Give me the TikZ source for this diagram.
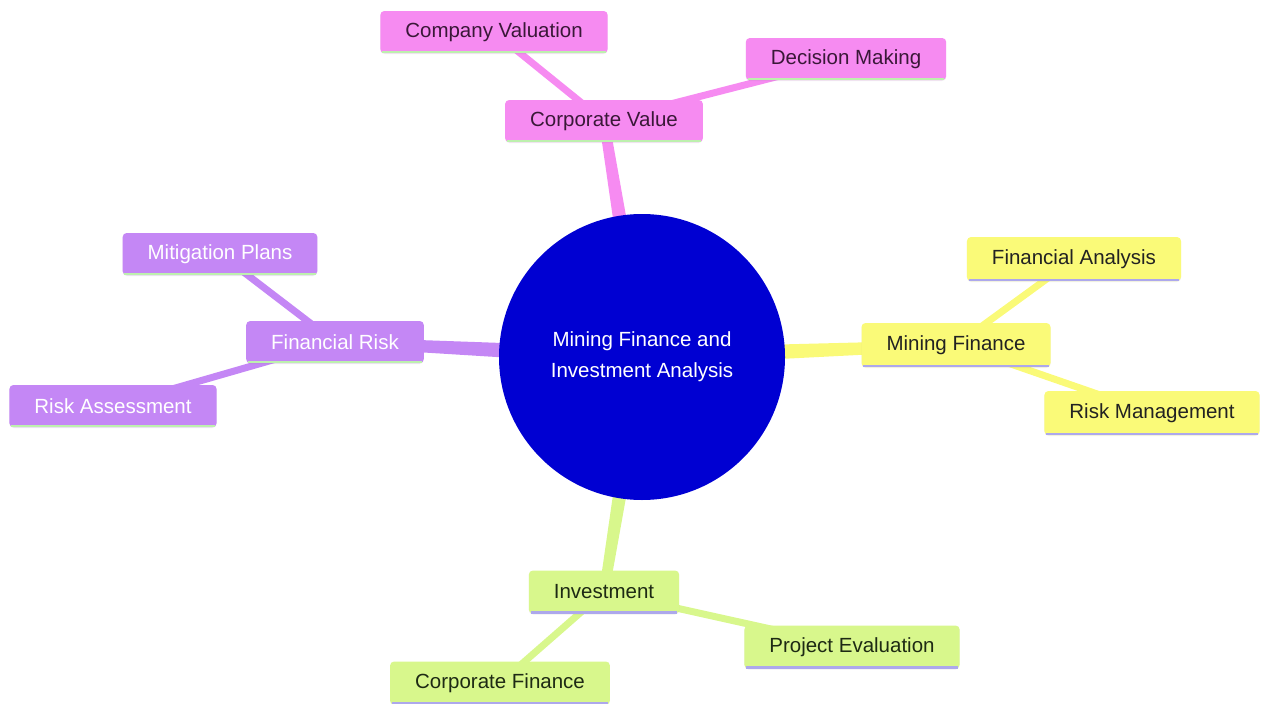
\documentclass[tikz,border=0pt]{standalone}
\usepackage{fontspec}
\setmainfont{Liberation Sans}
\usetikzlibrary{calc,backgrounds,shadows}
\definecolor{pinkf}{HTML}{F68BF1}
\definecolor{purpf}{HTML}{C487F5}
\definecolor{yellf}{HTML}{FAFA78}
\definecolor{limef}{HTML}{D8F78C}
\definecolor{rootf}{HTML}{0000D2}
\definecolor{greenline}{HTML}{BDF0AE}
\definecolor{lavline}{HTML}{ADA8EC}
\definecolor{pinktext}{HTML}{3A1838}
\definecolor{darktext}{HTML}{222222}
\definecolor{limetext}{HTML}{1E2A14}
\newcommand\taperedge[5]{%
  \fill[#1] ($(#2)!#4!90:(#3)$) -- ($(#3)!#5!-90:(#2)$) -- ($(#3)!#5!90:(#2)$) -- ($(#2)!#4!-90:(#3)$) -- cycle;}
\begin{document}
\begin{tikzpicture}[x=1pt,y=-1pt,
  font=\fontsize{20.5}{31}\selectfont,
  box/.style={rectangle, rounded corners=4pt, inner xsep=25pt, inner ysep=0pt,
    minimum height=42pt, drop shadow={opacity=0.12, shadow xshift=0pt, shadow yshift=-1pt}},
  pinkbox/.style={box, fill=pinkf, text=pinktext},
  purpbox/.style={box, fill=purpf, text=white},
  yellbox/.style={box, fill=yellf, text=darktext, minimum height=44pt},
  limebox/.style={box, fill=limef, text=limetext, minimum height=43pt},
  child/.style={line width=7pt},
  underline/.style={line width=2.5pt}]
\path[use as bounding box] (0,0) rectangle (1261,704);

\node[circle, fill=rootf, minimum size=286pt, text=white, align=center, inner sep=0pt] (root) at (642,357)
  {Mining Finance and\\Investment Analysis};

\node[pinkbox] (cv) at (604,121) {Corporate Value};
\node[pinkbox] (comp) at (494,32) {Company Valuation};
\node[pinkbox] (dec) at (846,59) {Decision Making};

\node[purpbox] (fr) at (335,342) {Financial Risk};
\node[purpbox] (mit) at (220,254) {Mitigation Plans};
\node[purpbox] (ra) at (113,406) {Risk Assessment};

\node[yellbox] (mf) at (956,345) {Mining Finance};
\node[yellbox] (fa) at (1074,259) {Financial Analysis};
\node[yellbox] (rm) at (1152,413) {Risk Management};

\node[limebox] (inv) at (604,592) {Investment};
\node[limebox] (pe) at (852,647) {Project Evaluation};
\node[limebox] (cf) at (500,683) {Corporate Finance};

\foreach \n in {cv,comp,dec,fr,mit,ra}
  \draw[underline, greenline] ([xshift=2pt,yshift=1pt]\n.south west) -- ([xshift=-2pt,yshift=1pt]\n.south east);
\foreach \n in {mf,fa,rm,inv,pe,cf}
  \draw[underline, lavline] ([xshift=2pt,yshift=1pt]\n.south west) -- ([xshift=-2pt,yshift=1pt]\n.south east);

\begin{scope}[on background layer]
  \taperedge{pinkf}{root}{cv}{9pt}{5pt}
  \taperedge{purpf}{root}{fr}{9pt}{5pt}
  \taperedge{yellf}{root}{mf}{9pt}{5pt}
  \taperedge{limef}{root}{inv}{9pt}{5pt}
  \draw[child, pinkf] (cv.center) -- (comp.center);
  \draw[child, pinkf] (cv.center) -- (dec.center);
  \draw[child, purpf] (fr.center) -- (mit.center);
  \draw[child, purpf] (fr.center) -- (ra.center);
  \draw[child, yellf] (mf.center) -- (fa.center);
  \draw[child, yellf] (mf.center) -- (rm.center);
  \draw[child, limef] (inv.center) -- (pe.center);
  \draw[child, limef] (inv.center) -- (cf.center);
\end{scope}
\end{tikzpicture}
\end{document}
